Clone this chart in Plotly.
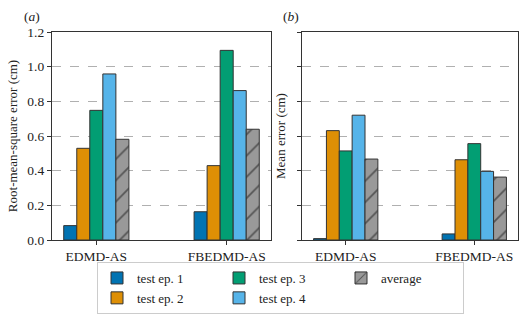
import plotly.graph_objects as go
from plotly.subplots import make_subplots

categories = ["EDMD-AS", "FBEDMD-AS"]
series_names = ["test ep. 1", "test ep. 2", "test ep. 3", "test ep. 4", "average"]

rmse_ep1 = [0.083, 0.163]
rmse_ep2 = [0.529, 0.429]
rmse_ep3 = [0.748, 1.094]
rmse_ep4 = [0.958, 0.862]
rmse_avg = [0.581, 0.639]

mean_ep1 = [0.008, 0.035]
mean_ep2 = [0.631, 0.463]
mean_ep3 = [0.514, 0.556]
mean_ep4 = [0.720, 0.396]
mean_avg = [0.467, 0.363]

y_ticks = [0.0, 0.2, 0.4, 0.6, 0.8, 1.0, 1.2]

colors = ["#0173B2", "#DE8F05", "#029E73", "#56B4E9", "#999999"]
ranks = [1, 4, 2, 5, 3]
FONT = "Liberation Serif"
FS = 13.5

W, H = 529, 317
L, R, T, B = 52, 11, 32, 77
pw = W - L - R

fig = make_subplots(rows=1, cols=2, shared_yaxes=False,
                    horizontal_spacing=(302 - 271) / pw)

left = [rmse_ep1, rmse_ep2, rmse_ep3, rmse_ep4, rmse_avg]
right = [mean_ep1, mean_ep2, mean_ep3, mean_ep4, mean_avg]

for col, data in ((1, left), (2, right)):
    for i, (name, vals) in enumerate(zip(series_names, data)):
        marker = dict(color=colors[i], line=dict(color="#333333", width=1))
        if name == "average":
            marker["pattern"] = dict(shape="/", fgcolor="#111111", bgcolor=colors[i],
                                     size=15, solidity=0.12, fillmode="overlay")
        fig.add_trace(go.Bar(x=categories, y=vals, name=name, marker=marker,
                             showlegend=(col == 1), legendrank=ranks[i],
                             legendgroup=name), row=1, col=col)

fig.update_layout(
    width=W, height=H,
    margin=dict(l=L, r=R, t=T, b=B, autoexpand=False),
    barmode="group", bargap=0.5, bargroupgap=0,
    plot_bgcolor="white", paper_bgcolor="white",
    font=dict(family=FONT, size=FS, color="#222222"),
    legend=dict(orientation="h", x=(97 - L) / pw, y=-(262 - 240) / 208,
                xanchor="left", yanchor="top",
                bordercolor="#cccccc", borderwidth=1, bgcolor="white",
                entrywidth=77, entrywidthmode="pixels",
                tracegroupgap=0, itemwidth=30,
                font=dict(family=FONT, size=13)),
)

fig.layout.xaxis.domain = [0, (271 - L) / pw]
fig.layout.xaxis2.domain = [(302 - L) / pw, 1]

for ax in ("xaxis", "xaxis2"):
    fig.layout[ax].update(range=[-0.34, 1.34], showline=True, mirror=True,
                          linecolor="#333333", linewidth=1.2,
                          ticks="outside", ticklen=4, tickcolor="#333333",
                          showgrid=False, automargin=False)
for ax, title, showlab in (("yaxis", "Root-mean-square error (cm)", True),
                           ("yaxis2", "Mean error (cm)", False)):
    fig.layout[ax].update(range=[0, 1.2], tickvals=y_ticks, tickformat=".1f",
                          showticklabels=showlab, automargin=False,
                          showline=True, mirror=True, linecolor="#333333", linewidth=1.2,
                          ticks="outside", ticklen=4, tickcolor="#333333",
                          showgrid=True, gridcolor="#b0b0b0", griddash="dash", gridwidth=1,
                          zeroline=False,
                          title=dict(text=title, standoff=6 if showlab else 8,
                                     font=dict(family=FONT, size=13)))

fig.add_annotation(text="(<i>a</i>)", xref="paper", yref="paper", x=-(L - 32) / pw,
                   y=1 + 16 / 208, xanchor="center", yanchor="middle", showarrow=False,
                   font=dict(family=FONT, size=FS))
fig.add_annotation(text="(<i>b</i>)", xref="paper", yref="paper", x=(291 - L) / pw,
                   y=1 + 16 / 208, xanchor="center", yanchor="middle", showarrow=False,
                   font=dict(family=FONT, size=FS))

fig.write_html("out.html", config={"displayModeBar": False},
               post_script="document.body.style.margin='0';")
